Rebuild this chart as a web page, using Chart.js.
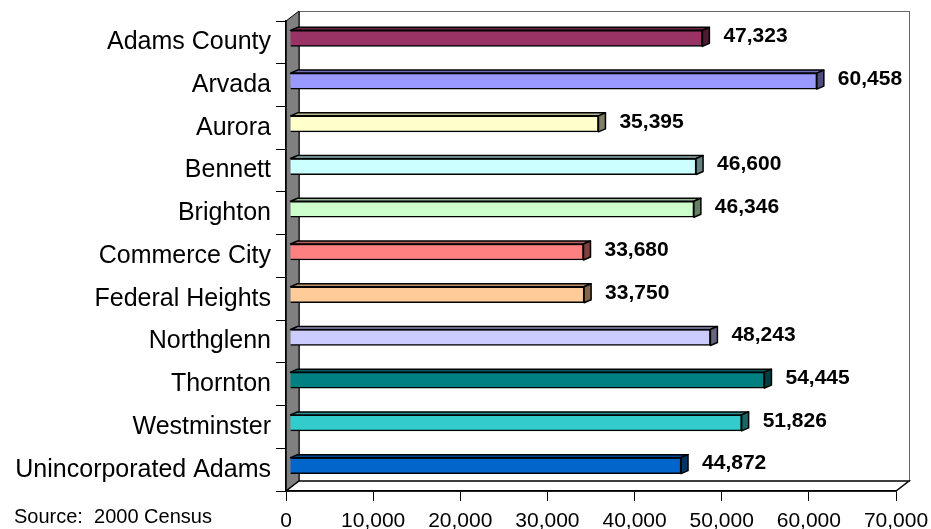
<!DOCTYPE html>
<html>
<head>
<meta charset="utf-8">
<script src="https://cdn.jsdelivr.net/npm/chart.js@4/dist/chart.umd.min.js"></script>
<style>
  body { margin: 0; background: #fff; }
  canvas { display: block; }
</style>
</head>
<body>
<canvas id="chart" width="931" height="529"></canvas>
<script>
// Median household income by place
const categories = ['Adams County', 'Arvada', 'Aurora', 'Bennett', 'Brighton', 'Commerce City',
    'Federal Heights', 'Northglenn', 'Thornton', 'Westminster', 'Unincorporated Adams'];
const incomes = [47323, 60458, 35395, 46600, 46346, 33680, 33750, 48243, 54445, 51826, 44872];
const xTickValues = [0, 10000, 20000, 30000, 40000, 50000, 60000, 70000];
const sourceNote = 'Source:  2000 Census';

const barColors = ['#993366', '#9999FF', '#FFFFCC', '#CCFFFF', '#CCFFCC', '#FF8080',
    '#FFCC99', '#CCCCFF', '#008080', '#33CCCC', '#0066CC'];

const FONT = "'Liberation Sans', Arial, sans-serif";
const WALL = { dx: 13, dy: -10 };   // depth of the 3d box
const BAR = { sx: 4, sy: -4, dx: 7, dy: -3 };   // bar shift and bar depth

function shade(hex, f) {
    const n = parseInt(hex.slice(1), 16);
    const r = Math.round(((n >> 16) & 255) * f);
    const g = Math.round(((n >> 8) & 255) * f);
    const b = Math.round((n & 255) * f);
    return `rgb(${r},${g},${b})`;
}

// walls + floor drawn behind everything, 3d faces on top of the bars
const wallsPlugin = {
    id: 'walls',
    beforeDraw(chart) {
        const { ctx, chartArea: a } = chart;
        ctx.save();
        ctx.lineWidth = 1;
        // back wall
        ctx.fillStyle = '#fff';
        ctx.strokeStyle = '#666';
        ctx.fillRect(a.left + WALL.dx, a.top + WALL.dy, a.right - a.left, a.bottom - a.top);
        ctx.strokeRect(a.left + WALL.dx + 0.5, a.top + WALL.dy + 0.5, a.right - a.left, a.bottom - a.top);
        // side wall
        ctx.beginPath();
        ctx.moveTo(a.left, a.bottom);
        ctx.lineTo(a.left, a.top);
        ctx.lineTo(a.left + WALL.dx, a.top + WALL.dy);
        ctx.lineTo(a.left + WALL.dx, a.bottom + WALL.dy);
        ctx.closePath();
        ctx.fillStyle = '#808080';
        ctx.fill();
        ctx.strokeStyle = '#000';
        ctx.stroke();
        // floor
        ctx.beginPath();
        ctx.moveTo(a.left, a.bottom);
        ctx.lineTo(a.right, a.bottom);
        ctx.lineTo(a.right + WALL.dx, a.bottom + WALL.dy);
        ctx.lineTo(a.left + WALL.dx, a.bottom + WALL.dy);
        ctx.closePath();
        ctx.fillStyle = '#fff';
        ctx.fill();
        ctx.lineWidth = 1.5;
        ctx.stroke();
        // source note
        ctx.fillStyle = '#000';
        ctx.font = '20px ' + FONT;
        ctx.textAlign = 'left';
        ctx.textBaseline = 'middle';
        ctx.fillText(sourceNote, 14, 517);
        ctx.restore();
    },
    beforeDatasetsDraw(chart) {
        chart.ctx.save();
        chart.ctx.translate(BAR.sx, BAR.sy);
    },
    afterDatasetsDraw(chart) {
        const ctx = chart.ctx;
        const meta = chart.getDatasetMeta(0);
        meta.data.forEach((el, i) => {
            const h = el.height;
            const top = el.y - h / 2, bot = el.y + h / 2;
            ctx.lineWidth = 1.5;
            ctx.strokeStyle = '#000';
            ctx.lineJoin = 'round';
            // top face
            ctx.beginPath();
            ctx.moveTo(el.base, top);
            ctx.lineTo(el.x, top);
            ctx.lineTo(el.x + BAR.dx, top + BAR.dy);
            ctx.lineTo(el.base + BAR.dx, top + BAR.dy);
            ctx.closePath();
            ctx.fillStyle = shade(barColors[i], 0.72);
            ctx.fill();
            ctx.stroke();
            // end cap
            ctx.beginPath();
            ctx.moveTo(el.x, top);
            ctx.lineTo(el.x + BAR.dx, top + BAR.dy);
            ctx.lineTo(el.x + BAR.dx, bot + BAR.dy);
            ctx.lineTo(el.x, bot);
            ctx.closePath();
            ctx.fillStyle = shade(barColors[i], 0.5);
            ctx.fill();
            ctx.stroke();
            // value label
            ctx.fillStyle = '#000';
            ctx.font = 'bold 21px ' + FONT;
            ctx.textAlign = 'left';
            ctx.textBaseline = 'middle';
            ctx.fillText(incomes[i].toLocaleString('en-US'), el.x + BAR.dx + 14, el.y - 2);
        });
        ctx.restore();
    }
};

new Chart(document.getElementById('chart'), {
    type: 'bar',
    data: {
        labels: categories,
        datasets: [{
            data: incomes,
            backgroundColor: barColors,
            borderColor: '#000',
            borderWidth: 1.5,
            barThickness: 16
        }]
    },
    options: {
        indexAxis: 'y',
        responsive: false,
        animation: false,
        layout: { padding: { top: 21, right: 35, left: 0, bottom: 0 } },
        plugins: { legend: { display: false }, tooltip: { enabled: false } },
        scales: {
            x: {
                min: 0,
                max: 70000,
                afterBuildTicks: s => { s.ticks = xTickValues.map(v => ({ value: v })); },
                afterFit: s => { s.height = 38; s.paddingLeft = 0; s.paddingRight = 0; },
                ticks: {
                    color: '#000',
                    font: { family: FONT, size: 21 },
                    padding: 8,
                    maxRotation: 0,
                    callback: v => v.toLocaleString('en-US')
                },
                grid: { drawOnChartArea: false, tickLength: 10, color: '#000' },
                border: { color: '#000', width: 1.5 }
            },
            y: {
                afterFit: s => { s.width = 286; },
                ticks: {
                    color: '#000',
                    font: { family: FONT, size: 25 },
                    padding: 5
                },
                grid: { drawOnChartArea: false, tickLength: 10, color: '#000', offset: true },
                border: { color: '#000', width: 1.5 }
            }
        }
    },
    plugins: [wallsPlugin]
});
</script>
</body>
</html>
